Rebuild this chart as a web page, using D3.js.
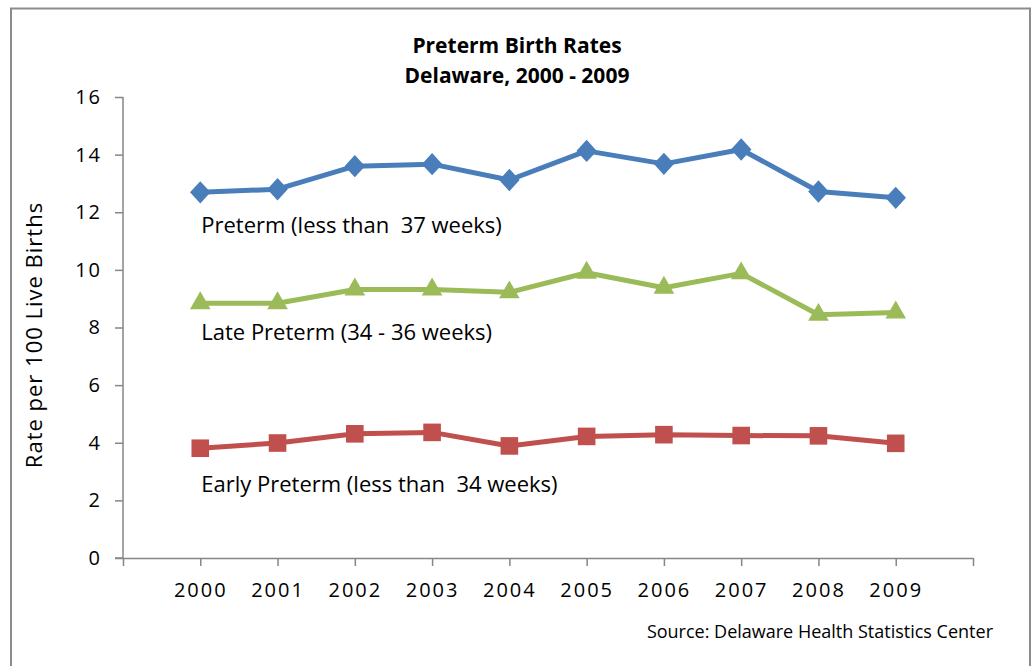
<!DOCTYPE html>
<html>
<head>
<meta charset="utf-8">
<script src="https://cdn.jsdelivr.net/npm/d3@7"></script>
<style>
  body { margin: 0; background: #fff; }
  svg text { font-family: "Open Sans", sans-serif; fill: #000; }
</style>
</head>
<body>
<div class="chartHolder"></div>
<script>
// data
const years = ["2000", "2001", "2002", "2003", "2004", "2005", "2006", "2007", "2008", "2009"];
const preterm = [12.69, 12.8, 13.6, 13.67, 13.12, 14.13, 13.68, 14.18, 12.72, 12.5];
const latePreterm = [8.84, 8.84, 9.32, 9.32, 9.22, 9.9, 9.38, 9.88, 8.44, 8.52];
const earlyPreterm = [3.81, 3.99, 4.31, 4.36, 3.89, 4.22, 4.28, 4.25, 4.24, 3.98];
const seriesNames = ["Preterm (less than  37 weeks)", "Late Preterm (34 - 36 weeks)", "Early Preterm (less than  34 weeks)"];
const yTicks = [0, 2, 4, 6, 8, 10, 12, 14, 16];

let w = 1033;
let h = 666;

const svg = d3.select(".chartHolder")
              .append("svg")
              .attr("width", w)
              .attr("height", h);

// outer frame
svg.append("rect")
   .attr("x", 11)
   .attr("y", 8.5)
   .attr("width", 1019)
   .attr("height", 680)
   .attr("fill", "none")
   .attr("stroke", "#8c8c8c")
   .attr("stroke-width", 2);

// x runs over slots 0..11, years sit on 1..10
const xScale = d3.scaleLinear()
                 .domain([0, years.length + 1])
                 .range([123, 973]);

const yScale = d3.scaleLinear()
                 .domain([0, 16])
                 .range([558, 97]);

const axisColor = "#868686";

const yAxis = d3.axisLeft(yScale)
                .tickValues(yTicks)
                .tickSize(8)
                .tickPadding(13)
                .tickSizeOuter(0);

const gy = svg.append("g")
              .attr("transform", "translate(123, 0)")
              .call(yAxis);

const xAxis = d3.axisBottom(xScale)
                .tickValues(d3.range(0, years.length + 2))
                .tickFormat(d => (d >= 1 && d <= years.length) ? years[d - 1] : "")
                .tickSize(8)
                .tickPadding(17)
                .tickSizeOuter(0);

const gx = svg.append("g")
              .attr("transform", "translate(0, 558)")
              .call(xAxis);

[gx, gy].forEach(g => {
  g.select(".domain").attr("stroke", axisColor).attr("stroke-width", 1.5);
  g.selectAll(".tick line").attr("stroke", axisColor).attr("stroke-width", 1.5);
  g.selectAll(".tick text")
   .style("font-family", "'Open Sans', sans-serif")
   .style("font-size", "20px")
   .style("letter-spacing", "2px")
   .attr("fill", "#000");
});

// extend the x axis line a bit left, like the y tick marks
gx.append("line")
  .attr("x1", 115)
  .attr("x2", 123)
  .attr("stroke", axisColor)
  .attr("stroke-width", 1.5);

gy.select(".domain").attr("d", "M0," + yScale(16) + "V" + yScale(0));

const series = [
  { values: preterm, color: "#4a7ebb", symbol: d3.symbolDiamond, size: 200, labelDy: 41 },
  { values: latePreterm, color: "#9bbb59", symbol: d3.symbolTriangle, size: 185, labelDy: 37 },
  { values: earlyPreterm, color: "#c0504d", symbol: d3.symbolSquare, size: 310, labelDy: 44 }
];

const line = d3.line()
               .x((d, i) => xScale(i + 1))
               .y(d => yScale(d));

series.forEach((s, k) => {
  svg.append("path")
     .datum(s.values)
     .attr("d", line)
     .attr("fill", "none")
     .attr("stroke", s.color)
     .attr("stroke-width", 5)
     .attr("stroke-linejoin", "round");

  svg.selectAll(".mark" + k)
     .data(s.values)
     .enter()
     .append("path")
     .attr("class", "mark" + k)
     .attr("d", d3.symbol().type(s.symbol).size(s.size))
     .attr("transform", (d, i) => {
        let sc = s.symbol === d3.symbolDiamond ? " scale(1.35,0.85)" : "";
        return "translate(" + xScale(i + 1) + "," + yScale(d) + ")" + sc;
     })
     .attr("fill", s.color);

  svg.append("text")
     .attr("x", xScale(1) + 1)
     .attr("y", yScale(s.values[0]) + s.labelDy)
     .style("font-size", "22px")
     .style("white-space", "pre")
     .attr("xml:space", "preserve")
     .text(seriesNames[k]);
});

// titles
svg.append("text")
   .attr("x", 517)
   .attr("y", 53)
   .attr("text-anchor", "middle")
   .style("font-size", "21px")
   .style("font-weight", "bold")
   .text("Preterm Birth Rates");

svg.append("text")
   .attr("x", 517)
   .attr("y", 83)
   .attr("text-anchor", "middle")
   .style("font-size", "21px")
   .style("font-weight", "bold")
   .text("Delaware, 2000 - 2009");

svg.append("text")
   .attr("transform", "translate(42, 335) rotate(-90)")
   .attr("text-anchor", "middle")
   .style("font-size", "22px")
   .style("letter-spacing", "1px")
   .text("Rate per 100 Live Births");

svg.append("text")
   .attr("x", 993)
   .attr("y", 638)
   .attr("text-anchor", "end")
   .style("font-size", "18px")
   .text("Source: Delaware Health Statistics Center");
</script>
</body>
</html>
